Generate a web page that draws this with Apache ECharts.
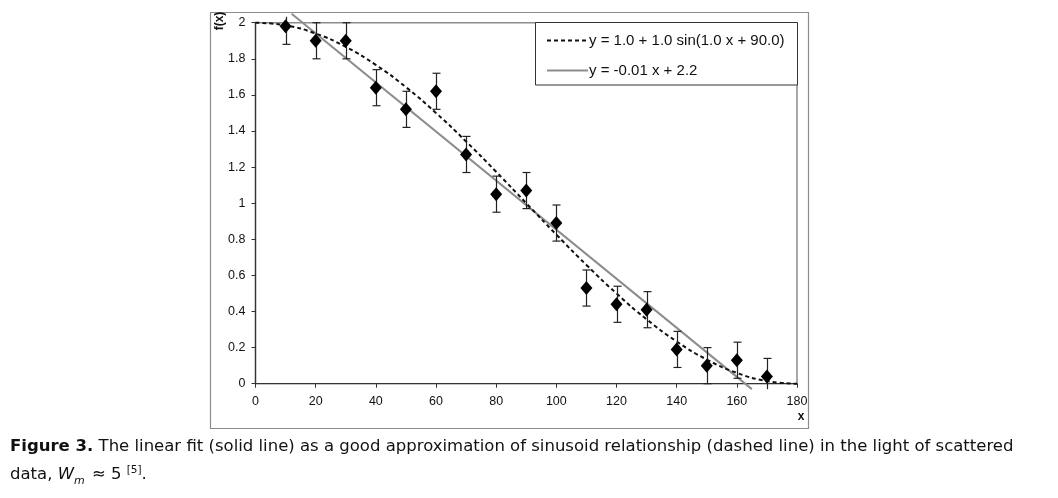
<!DOCTYPE html>
<html><head><meta charset="utf-8">
<script src="https://cdn.jsdelivr.net/npm/echarts@6/dist/echarts.min.js"></script>
<style>html,body{margin:0;padding:0;background:#fff}#c{width:1058px;height:498px}</style>
</head><body><div id="c"></div>
<script>
// data
const pointX = [10,20,30,40,50,60,70,80,90,100,110,120,130,140,150,160,170];
const pointY = [1.98,1.90,1.90,1.64,1.52,1.62,1.27,1.05,1.07,0.89,0.53,0.44,0.41,0.19,0.10,0.13,0.04];
const pointErr = [0.1,0.1,0.1,0.1,0.1,0.1,0.1,0.1,0.1,0.1,0.1,0.1,0.1,0.1,0.1,0.1,0.1];
const sinX = [0,10,20,30,40,50,60,70,80,90,100,110,120,130,140,150,160,170,180];
const sinY = [2.0,1.985,1.94,1.866,1.766,1.643,1.5,1.342,1.174,1.0,0.826,0.658,0.5,0.357,0.234,0.134,0.06,0.015,0.0];
const linX = [12,165];
const linY = [2.05,-0.03];
const xTicks = [0,20,40,60,80,100,120,140,160,180];
const yTicks = [0,0.2,0.4,0.6,0.8,1,1.2,1.4,1.6,1.8,2];
const legendLabels = ['y = 1.0 + 1.0 sin(1.0 x + 90.0)','y = -0.01 x + 2.2'];

const chart = echarts.init(document.getElementById('c'));
const F = '"Liberation Sans", Arial, sans-serif';
const CF = '"DejaVu Sans", Verdana, sans-serif';
const GL = 255.5, GT = 22.7, GR = 797, GB = 383.7;

const option = {
  animation:false,
  backgroundColor:'#fff',
  grid:{left:GL, top:GT, width:GR-GL, height:GB-GT, show:true, borderColor:'#8c8c8c', borderWidth:1.5, backgroundColor:'transparent'},
  xAxis:{type:'value', min:xTicks[0], max:xTicks[xTicks.length-1], interval:20,
    axisLine:{onZero:false, lineStyle:{color:'#333', width:1.2}},
    axisTick:{show:true, inside:false, length:4, lineStyle:{color:'#333'}},
    axisLabel:{color:'#111', fontFamily:F, fontSize:12.5, margin:11},
    splitLine:{show:false}},
  yAxis:{type:'value', min:yTicks[0], max:yTicks[yTicks.length-1], interval:0.2,
    axisLine:{show:true, onZero:false, lineStyle:{color:'#333', width:1.2}},
    axisTick:{show:true, inside:false, length:4, lineStyle:{color:'#333'}},
    axisLabel:{color:'#111', fontFamily:F, fontSize:12.5, margin:10},
    splitLine:{show:false}},
  series:[
    {type:'line', data:linX.map((x,i)=>[x,linY[i]]), symbol:'none', clip:false, z:3,
      lineStyle:{color:'#8c8c8c', width:2}},
    {type:'line', data:sinX.map((x,i)=>[x,sinY[i]]), smooth:true, symbol:'none', clip:false, z:4,
      lineStyle:{color:'#111', width:2, type:[4,3]}},
    {type:'custom', z:5, clip:false,
      data:pointX.map((x,i)=>[x,pointY[i]-pointErr[i],pointY[i]+pointErr[i]]),
      renderItem:function(params, api){
        const lo = api.coord([api.value(0), api.value(1)]);
        const hi = api.coord([api.value(0), api.value(2)]);
        const clampT = GT-6, clampB = GB+5.5;
        let yhi = hi[1], ylo = lo[1];
        const capHi = yhi >= clampT, capLo = ylo <= clampB;
        yhi = Math.max(yhi, clampT); ylo = Math.min(ylo, clampB);
        const x = Math.round(lo[0])+0.5;
        const st = {stroke:'#222', lineWidth:1.2};
        const ch = [{type:'line', shape:{x1:x,y1:yhi,x2:x,y2:ylo}, style:st}];
        if(capHi) ch.push({type:'line', shape:{x1:x-4,y1:yhi,x2:x+4,y2:yhi}, style:st});
        if(capLo) ch.push({type:'line', shape:{x1:x-4,y1:ylo,x2:x+4,y2:ylo}, style:st});
        return {type:'group', children:ch};
      }},
    {type:'scatter', data:pointX.map((x,i)=>[x,pointY[i]]), symbol:'diamond', symbolSize:[12,14], z:6,
      itemStyle:{color:'#000', opacity:1}}
  ],
  graphic:[
    {type:'rect', shape:{x:210.5,y:12.5,width:598,height:416}, style:{fill:'none', stroke:'#8c8c8c', lineWidth:1.2}, z:1},
    {type:'rect', shape:{x:535.5,y:22.5,width:262,height:62.5}, style:{fill:'#fff', stroke:'#333', lineWidth:1}, z:10},
    {type:'line', shape:{x1:547,y1:40.5,x2:587,y2:40.5}, style:{stroke:'#111', lineWidth:2, lineDash:[4,3]}, z:11},
    {type:'text', x:589, y:40.5, style:{text:legendLabels[0], font:'15px '+F, fill:'#111', textVerticalAlign:'middle'}, z:11},
    {type:'line', shape:{x1:547,y1:70.5,x2:588,y2:70.5}, style:{stroke:'#8c8c8c', lineWidth:2}, z:11},
    {type:'text', x:589, y:70.5, style:{text:legendLabels[1], font:'15px '+F, fill:'#111', textVerticalAlign:'middle'}, z:11},
    {type:'text', x:801, y:417, style:{text:'x', font:'bold 12px '+F, fill:'#111', textAlign:'center', textVerticalAlign:'middle'}, z:11},
    {type:'text', x:220, y:21, rotation:Math.PI/2, style:{text:'f(x)', font:'bold 12px '+F, fill:'#111', textAlign:'center', textVerticalAlign:'middle'}, z:11},
    {type:'text', x:10, y:447, style:{
      text:'{b|Figure 3.} The linear fit (solid line) as a good approximation of sinusoid relationship (dashed line) in the light of scattered',
      font:'16.5px '+CF, fill:'#111', textVerticalAlign:'middle',
      rich:{b:{fontWeight:'bold', fontSize:16.5, fontFamily:CF, fill:'#111'}}}, z:11},
    {type:'text', x:10, y:475, style:{
      text:'data, {i|W}{sub|m} ≈ 5 {sup|[5]}.',
      font:'16.5px '+CF, fill:'#111', textVerticalAlign:'middle',
      rich:{i:{fontStyle:'italic', fontSize:16.5, fontFamily:CF, fill:'#111'},
            sub:{fontStyle:'italic', fontSize:11, fontFamily:CF, fill:'#111', padding:[13,2,0,0]},
            sup:{fontSize:10.5, fontFamily:CF, fill:'#111', padding:[0,0,10,0]}}}, z:11}
  ]
};
chart.setOption(option);
</script></body></html>
